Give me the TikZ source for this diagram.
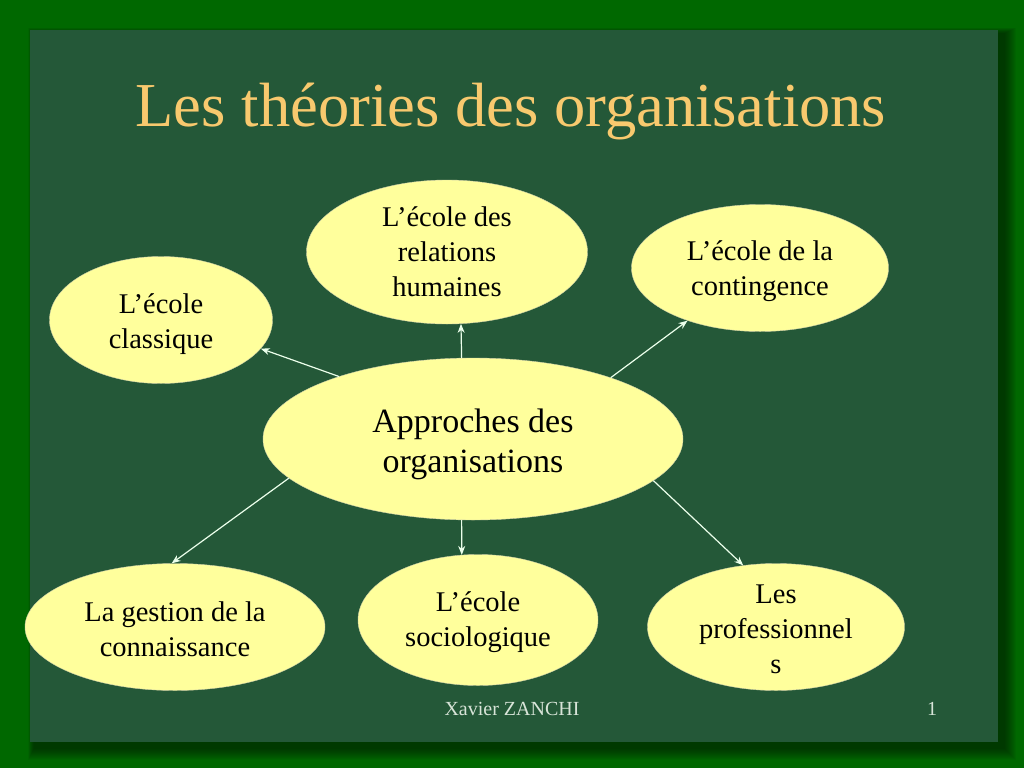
\documentclass[tikz,border=0pt]{standalone}
\usepackage{fontspec}
\setmainfont{Liberation Serif}
\usetikzlibrary{shapes.geometric,arrows.meta}
\definecolor{frame}{HTML}{006800}
\definecolor{marble}{HTML}{245838}
\definecolor{bubble}{HTML}{FFFF9C}
\definecolor{titlecol}{HTML}{F8C96E}
\definecolor{footcol}{HTML}{D8E4D8}
\tikzset{
  bub/.style={ellipse, fill=bubble, draw=bubble!70!black!60, line width=0.4pt, inner sep=0pt},
  txt/.style={align=center, text=black, inner sep=0pt, font=\fontsize{28.5}{35}\selectfont},
  link/.style={draw=white!92!green, line width=1.2pt, -{Stealth[length=9pt,width=7pt]}}
}
\begin{document}
\begin{tikzpicture}[x=1pt,y=-1pt]
\useasboundingbox (0,0) rectangle (1024,768);
\fill[frame] (0,0) rectangle (1024,768);
% soft shadow around the marble panel
\foreach \i in {1,...,12}{
  \fill[black, opacity=0.045] (30-\i*0.5+4,30-\i*0.5+4) rectangle (998+\i+6,742+\i+6);
}
\fill[marble] (30,30) rectangle (998,742);
% title
\node[anchor=base, text=titlecol, font=\fontsize{62.5}{70}\selectfont] (title) at (511,126) {Les théories des organisations};
% nodes
\node[bub, minimum width=420pt, minimum height=162pt, label={[txt, yshift=-5pt, font=\fontsize{34}{40}\selectfont]center:{Approches des\\organisations}}] (c) at (473,439) {};
\node[bub, minimum width=281pt, minimum height=144pt, label={[txt, yshift=0pt]center:{L’école des\\relations\\humaines}}] (hum) at (447,252) {};
\node[bub, minimum width=257pt, minimum height=127pt, label={[txt, yshift=-3.5pt]center:{L’école de la\\contingence}}] (con) at (760,268) {};
\node[bub, minimum width=223pt, minimum height=127pt, label={[txt, yshift=-4.5pt]center:{L’école\\classique}}] (cls) at (161,320) {};
\node[bub, minimum width=300pt, minimum height=127pt, label={[txt, yshift=-2pt]center:{La gestion de la\\connaissance}}] (ges) at (175,627) {};
\node[bub, minimum width=240pt, minimum height=131pt, label={[txt, yshift=-2.5pt]center:{L’école\\sociologique}}] (soc) at (478,620) {};
\node[bub, minimum width=257pt, minimum height=127pt, label={[txt, yshift=-2pt]center:{Les\\professionnel\\s}}] (pro) at (776,627) {};
% connectors
\draw[link] (c.98) -- (hum.-79);
\draw[link] (c.24) -- (con.216);
\draw[link] (c.155) -- (cls.-16);
\draw[link] (c.192) -- (ges.93);
\draw[link] (c.262) -- (soc.104);
\draw[link] (c.-13.5) -- (pro.118);
% footer
\node[anchor=base, text=footcol, font=\fontsize{20}{24}\selectfont] (author) at (512,715) {Xavier ZANCHI};
\node[anchor=base, text=footcol, font=\fontsize{20}{24}\selectfont] (page) at (932,715) {1};
\end{tikzpicture}
\end{document}
